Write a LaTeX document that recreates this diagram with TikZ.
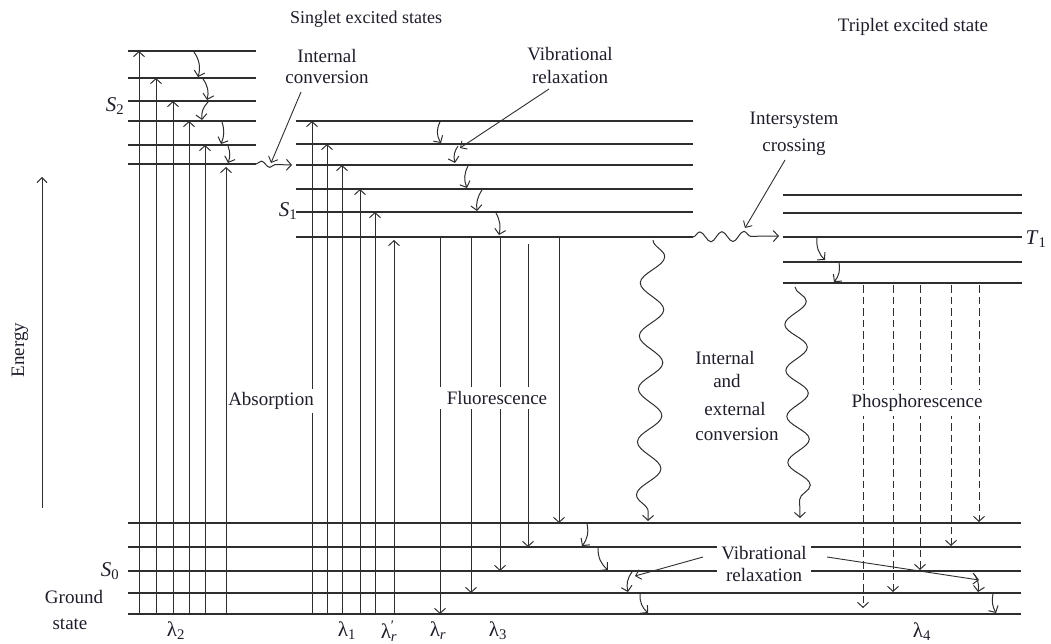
\documentclass[tikz,border=0pt]{standalone}
\usepackage{fontspec}
\setmainfont{Liberation Serif}
\usetikzlibrary{arrows.meta,decorations.pathmorphing}
\definecolor{ln}{HTML}{2E2E2E}
\definecolor{tx}{HTML}{1E1E2A}
\newcommand{\lam}[1]{λ\textsubscript{#1}}
\begin{document}
\begin{tikzpicture}[x=1pt,y=-1pt,
  lvl/.style={draw=ln,line width=1.4pt},
  lvlthick/.style={draw=ln,line width=2.9pt},
  arr/.style={draw=ln,line width=1pt,-{Straight Barb[length=5pt,width=11pt]}},
  ptr/.style={draw=ln,line width=0.9pt,-{Straight Barb[length=5pt,width=10pt]}},
  phos/.style={arr,dash pattern=on 7.5pt off 4pt},
  lbl/.style={text=tx,font=\fontsize{19}{22}\selectfont,inner sep=1pt},
  sym/.style={text=tx,font=\fontsize{21}{24}\selectfont,inner sep=1pt},
  ttl/.style={text=tx,font=\fontsize{18}{21}\selectfont,inner sep=1pt},
  wbox/.style={fill=white},
  wavy/.style={draw=ln,line width=1pt,decorate}]
\useasboundingbox (0,0) rectangle (1051,644);

% ---- energy levels ----
\foreach \y in {51,78,101,121,145} \draw[lvl] (128,\y) -- (256,\y);
\draw[lvlthick] (128,164) -- (256,164);
\foreach \y in {121,144,165,189,212} \draw[lvl] (296,\y) -- (693,\y);
\draw[lvlthick] (296,237) -- (693,237);
\foreach \y in {195,213,237,262} \draw[lvl] (783,\y) -- (1022,\y);
\draw[lvlthick] (783,283) -- (1022,283);
\foreach \y in {523,547,571,593} \draw[lvl] (128,\y) -- (1021,\y);
\draw[lvlthick] (128,614) -- (1021,614);

% ---- absorption ----
\foreach \x/\y in {139/51,156/78,173/101,189/121,205/145,226/167,
                   312/121,327/144,342/165,360/189,375/212,394/240}
  \draw[arr] (\x,613) -- (\x,\y);

% ---- fluorescence ----
\draw[arr] (440,238) -- (440,614);
\draw[arr] (471,238) -- (471,593);
\draw[arr] (500,238) -- (500,571);
\draw[arr] (528,244) -- (528,547);
\draw[arr] (559,238) -- (559,523);

% ---- phosphorescence ----
\draw[phos] (863,285) -- (863,608);
\draw[phos] (893,285) -- (893,592);
\draw[phos] (920,285) -- (920,570);
\draw[phos] (951,285) -- (951,546);
\draw[phos] (979,285) -- (979,522);

% ---- vibrational relaxation arrows ----
\draw[arr] (194,52) to[bend left=25] (198,77);
\draw[arr] (203,79) to[bend left=25] (207,100);
\draw[arr] (208,102) to[bend right=25] (202,120);
\draw[arr] (222,122) to[bend left=20] (221,144);
\draw[arr] (228,146) to[bend left=20] (228,163);
\draw[arr] (440,122) to[bend right=30] (441,143);
\draw[arr] (458,146) to[bend right=25] (455,163);
\draw[arr] (468,166) to[bend right=25] (467,188);
\draw[arr] (482,190) to[bend right=20] (477,211);
\draw[arr] (496,213) to[bend left=20] (499,235);
\draw[arr] (817,238) to[bend right=25] (825,260);
\draw[arr] (839,263) to[bend left=25] (834,282);
\draw[arr] (587,524) to[bend left=25] (582,546);
\draw[arr] (598,548) to[bend right=25] (608,570);
\draw[arr] (632,572) to[bend right=25] (628,592);
\draw[arr] (640,594) to[bend right=25] (648,613);
\draw[arr] (973,573) to[bend left=25] (978,592);
\draw[arr] (993,594) to[bend right=20] (996,613);

% ---- wavy transitions ----
\draw[wavy,decoration={snake,amplitude=3pt,segment length=17pt,post length=15pt},
      -{Straight Barb[length=5pt,width=11pt]}] (256,164) -- (292,165);
\draw[wavy,decoration={snake,amplitude=5pt,segment length=22pt,post length=26pt},
      -{Straight Barb[length=5pt,width=11pt]}] (693,237) -- (779,236);
\draw[wavy,decoration={snake,amplitude=12pt,segment length=53pt,post length=3pt},
      -{Straight Barb[length=5pt,width=11pt]}] (653,240) -- (648,521);
\draw[wavy,decoration={snake,amplitude=11pt,segment length=46pt,post length=3pt},
      -{Straight Barb[length=5pt,width=11pt]}] (795,287) -- (800,518);

% ---- energy axis ----
\coordinate (e0) at (42,508);
\coordinate (e1) at (42,177);
\draw[ptr] (e0) -- (e1);
\node[lbl,rotate=90] (energy) at (20,350) {Energy};

% ---- titles ----
\node[ttl] (singlet) at (366,19) {Singlet excited states};
\node[ttl,font=\fontsize{19}{22}\selectfont] (triplet) at (913,27) {Triplet excited state};

% ---- labels with white boxes ----
\node[lbl,wbox,inner xsep=1pt,inner ysep=3pt] (absorp) at (271,401) {Absorption};
\node[lbl,wbox,inner xsep=10pt,inner ysep=4pt] (fluor) at (497,398) {Fluorescence};
\node[lbl,wbox,inner xsep=2pt,inner ysep=4pt] (phosl) at (917,403) {Phosphorescence};
\node[lbl,wbox,align=center,inner xsep=4pt,inner ysep=1pt,
      font=\fontsize{19}{22}\selectfont] (vibbot) at (764,564) {Vibrational\\relaxation};

% ---- other labels ----
\node[lbl,align=center,font=\fontsize{19}{21}\selectfont] (icl) at (327,67) {Internal\\conversion};
\node[lbl,align=center,font=\fontsize{19}{23}\selectfont] (vibtop) at (570,66) {Vibrational\\relaxation};
\node[lbl,align=center,font=\fontsize{19}{27}\selectfont] (isc) at (794,134) {Intersystem\\crossing};
\node[lbl] (iec1) at (725,358) {Internal};
\node[lbl] (iec2) at (727,381) {and};
\node[lbl] (iec3) at (735,409) {external};
\node[lbl] (iec4) at (737,434) {conversion};
\node[lbl] (gs1) at (74,597) {Ground};
\node[lbl] (gs2) at (70,624) {state};
\node[sym] (s2) at (115,106) {\textit{S}\textsubscript{2}};
\node[sym] (s1) at (288,211) {\textit{S}\textsubscript{1}};
\node[sym] (s0) at (110,571) {\textit{S}\textsubscript{0}};
\node[sym] (t1) at (1036,239) {\textit{T}\textsubscript{1}};
\node[sym] (l2) at (176,631) {\lam{2}};
\node[sym] (l1) at (347,631) {\lam{1}};
\node[sym] (lrp) at (389,631) {λ\rlap{\textsuperscript{′}}\textsubscript{\textit{r}}};
\node[sym] (lr) at (438,631) {λ\textsubscript{\textit{r}}};
\node[sym] (l3) at (498,631) {\lam{3}};
\node[sym] (l4) at (922,632) {\lam{4}};

% ---- pointers ----
\coordinate (icA) at (301,92);
\coordinate (icB) at (271,163);
\draw[ptr] (icA) -- (icB);
\coordinate (vtA) at (549,89);
\coordinate (vtB) at (460,148);
\draw[ptr] (vtA) -- (vtB);
\coordinate (iscA) at (785,160);
\coordinate (iscB) at (745,228);
\draw[ptr] (iscA) -- (iscB);
\coordinate (vbA) at (703,557);
\coordinate (vbB) at (635,576);
\draw[ptr] (vbA) -- (vbB);
\coordinate (vcA) at (827,557);
\coordinate (vcB) at (979,580);
\draw[ptr] (vcA) -- (vcB);
\end{tikzpicture}
\end{document}
